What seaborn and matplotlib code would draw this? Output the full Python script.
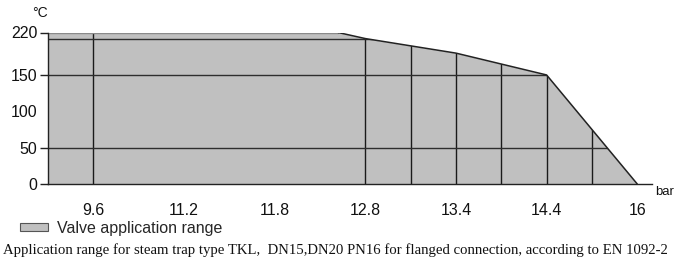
import numpy as np
import matplotlib
matplotlib.use("Agg")
import matplotlib.pyplot as plt
import seaborn as sns
from matplotlib.patches import Patch

# ---- data ----
x_tick_values = [9.6, 11.2, 11.8, 12.8, 13.4, 14.4, 16.0]
x_tick_labels = ["9.6", "11.2", "11.8", "12.8", "13.4", "14.4", "16"]
y_tick_values = [0, 50, 100, 150, 220]
y_tick_labels = ["0", "50", "100", "150", "220"]

# boundary of the application range (pressure in bar, temperature in °C)
pressure = [8.8, 12.5, 12.8, 13.1, 13.4, 13.9, 14.4, 15.2, 16.0]
temperature = [220, 220, 210, 198, 186, 168, 150, 75, 0]

# grid lines drawn inside the range
grid_pressures = [9.6, 12.8, 13.1, 13.4, 13.9, 14.4, 15.2]
grid_temperatures = [50, 150, 210]

# the original chart uses non-uniform axis scales
x_knots = [8.8, 9.6, 11.2, 11.8, 12.8, 13.4, 14.4, 16.0, 16.8]
x_slots = [-0.5, 0, 1, 2, 3, 4, 5, 6, 6.5]
y_knots = [0, 150, 220, 300]
y_slots = [0, 150, 208.4, 288.4]

legend_label = "Valve application range"
caption = ("Application range for steam trap type TKL,  DN15,DN20 PN16 for "
           "flanged connection, according to EN 1092-2")

# ---- style ----
sns.set_theme(style="white")
plt.rcParams['font.family'] = ['Liberation Sans', 'DejaVu Sans']

W, H = 676, 258
fig = plt.figure(figsize=(W / 100, H / 100), dpi=100)
fig.patch.set_facecolor("white")
ax = fig.add_axes([48 / W, (H - 184) / H, (652 - 48) / W, (184 - 32.5) / H])
ax.set_facecolor("white")

xf = lambda v: np.interp(v, x_knots, x_slots)
xi = lambda v: np.interp(v, x_slots, x_knots)
yf = lambda v: np.interp(v, y_knots, y_slots)
yi = lambda v: np.interp(v, y_slots, y_knots)
ax.set_xscale("function", functions=(xf, xi))
ax.set_yscale("function", functions=(yf, yi))

fill_color = "#c0c0c0"
poly = ax.fill_between(pressure, temperature, 0, color=fill_color, lw=0, zorder=1)

# grid lines clipped to the region
vl = ax.vlines(grid_pressures, 0, 230, colors="#1a1a1a", lw=1.0, zorder=2)
vl.set_clip_path(poly.get_paths()[0], ax.transData)
hl = ax.hlines(grid_temperatures, 8.0, 17.0, colors="#2e2e2e", lw=1.0, zorder=2)
hl.set_clip_path(poly.get_paths()[0], ax.transData)

# boundary outline
sns.lineplot(x=pressure[:2], y=temperature[:2], ax=ax, color="#8a8a8a",
             lw=1.0, sort=False, zorder=3)
sns.lineplot(x=pressure[1:], y=temperature[1:], ax=ax, color="#222222",
             lw=1.1, sort=False, zorder=3)

ax.set_xlim(8.8, 16.26)
ax.set_ylim(0, 220)

for s in ["top", "right"]:
    ax.spines[s].set_visible(False)
ax.spines["left"].set_color("#222222")
ax.spines["left"].set_linewidth(1.0)
ax.spines["bottom"].set_color("#222222")
ax.spines["bottom"].set_linewidth(1.0)
ax.spines["left"].set_zorder(4)

ax.set_xticks(x_tick_values)
ax.set_xticklabels(x_tick_labels)
ax.set_yticks(y_tick_values)
ax.set_yticklabels(y_tick_labels)
ax.minorticks_off()
ax.tick_params(axis="x", length=0, pad=13.5, labelsize=11.5, labelcolor="#111111")
ax.tick_params(axis="y", length=5.8, width=1.0, color="#222222", pad=2,
               labelsize=11.5, labelcolor="#111111", left=True)
ax.yaxis.get_major_ticks()[2].tick1line.set_visible(False)
ax.grid(False)
ax.set_xlabel("")
ax.set_ylabel("")

fig.text(40 / W, 1 - 13 / H, "°C", ha="center", va="center", fontsize=10, color="#111111")
fig.text(655 / W, 1 - 192 / H, "bar", ha="left", va="center", fontsize=9.5, color="#111111")

leg = fig.legend(handles=[Patch(facecolor=fill_color, edgecolor="#555555", lw=0.8,
                                label=legend_label)],
                 loc="center left", bbox_to_anchor=(20 / W, 1 - 228 / H),
                 frameon=False, fontsize=11.5, handlelength=1.75, handleheight=0.4,
                 handletextpad=0.55, borderaxespad=0, borderpad=0)

fig.text(3 / W, 1 - 250 / H, caption, ha="left", va="center", fontsize=10.6,
         family=["Liberation Serif", "DejaVu Serif"], color="#111111")

fig.savefig("out.png", dpi=100)
